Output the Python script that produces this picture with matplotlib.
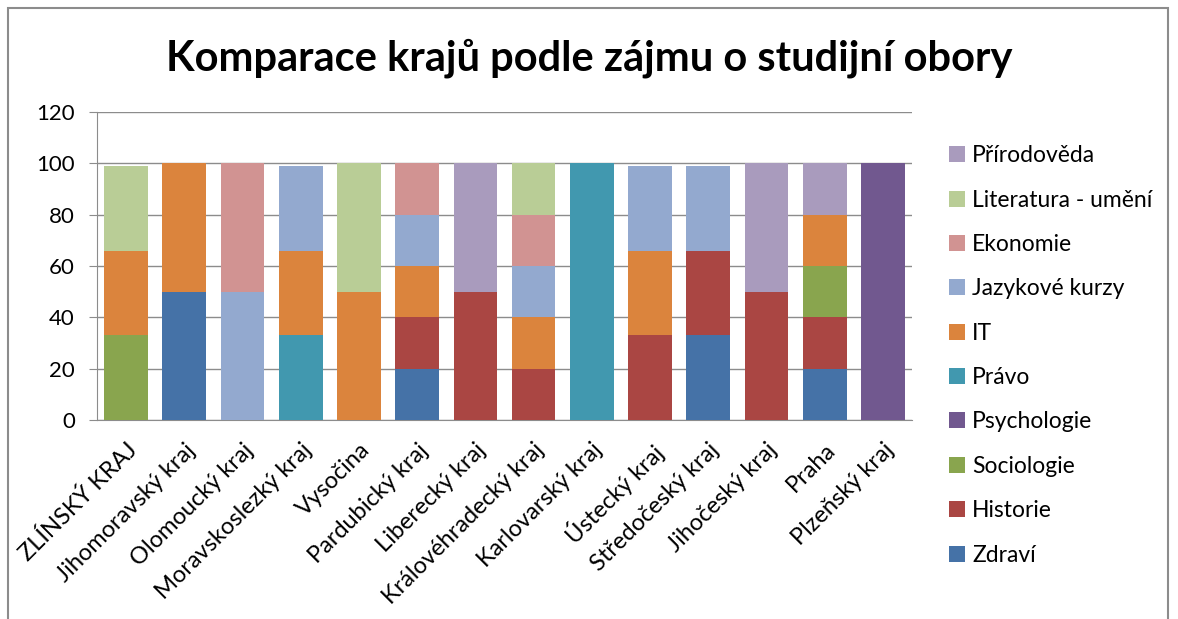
import numpy as np
import matplotlib
matplotlib.use('Agg')
import matplotlib.pyplot as plt
from matplotlib.patches import Rectangle, Patch

plt.rcParams['font.family'] = ['Lato', 'DejaVu Sans']

regions = ['ZLÍNSKÝ KRAJ', 'Jihomoravský kraj', 'Olomoucký kraj', 'Moravskoslezký kraj',
           'Vysočina', 'Pardubický kraj', 'Liberecký kraj', 'Královéhradecký kraj',
           'Karlovarský kraj', 'Ústecký kraj', 'Středočeský kraj', 'Jihočeský kraj',
           'Praha', 'Plzeňský kraj']

# stacking order, bottom to top
fields = ['Zdraví', 'Historie', 'Sociologie', 'Psychologie', 'Právo', 'IT',
          'Jazykové kurzy', 'Ekonomie', 'Literatura - umění', 'Přírodověda']

zdravi      = [0, 50, 0, 0, 0, 20, 0, 0, 0, 0, 33, 0, 20, 0]
historie    = [0, 0, 0, 0, 0, 20, 50, 20, 0, 33, 33, 50, 20, 0]
sociologie  = [33, 0, 0, 0, 0, 0, 0, 0, 0, 0, 0, 0, 20, 0]
psychologie = [0, 0, 0, 0, 0, 0, 0, 0, 0, 0, 0, 0, 0, 100]
pravo       = [0, 0, 0, 33, 0, 0, 0, 0, 100, 0, 0, 0, 0, 0]
it          = [33, 50, 0, 33, 50, 20, 0, 20, 0, 33, 0, 0, 20, 0]
jazykove    = [0, 0, 50, 33, 0, 20, 0, 20, 0, 33, 33, 0, 0, 0]
ekonomie    = [0, 0, 50, 0, 0, 20, 0, 20, 0, 0, 0, 0, 0, 0]
literatura  = [33, 0, 0, 0, 50, 0, 0, 20, 0, 0, 0, 0, 0, 0]
prirodoveda = [0, 0, 0, 0, 0, 0, 50, 0, 0, 0, 0, 50, 20, 0]

series = [zdravi, historie, sociologie, psychologie, pravo, it,
          jazykove, ekonomie, literatura, prirodoveda]
colors = ['#4572A7', '#AA4643', '#89A54E', '#71588F', '#4198AF', '#DB843D',
          '#93A9CF', '#D19392', '#B9CD96', '#A99BBD']

fig = plt.figure(figsize=(11.78, 6.19), dpi=100)
fig.patches.append(Rectangle((8 / 1178, -0.1), 1160 / 1178, 1 - 8 / 619 + 0.1,
                             transform=fig.transFigure, fill=False,
                             edgecolor='#8c8c8c', linewidth=1.5))

ax = fig.add_axes([97 / 1178, 1 - 420 / 619, 815 / 1178, 308 / 619])
x = np.arange(len(regions))
bottom = np.zeros(len(regions))
for vals, col in zip(series, colors):
    ax.bar(x, vals, width=0.75, bottom=bottom, color=col, zorder=3)
    bottom += np.array(vals)

ax.set_xlim(-0.5, len(regions) - 0.5)
ax.set_ylim(0, 120)
ax.set_yticks(range(0, 121, 20))
ax.yaxis.grid(True, color='#8c8c8c', linewidth=1, zorder=0)
for s in ['top', 'right']:
    ax.spines[s].set_visible(False)
for s in ['left', 'bottom']:
    ax.spines[s].set_color('#8c8c8c')
ax.tick_params(axis='y', length=6, color='#8c8c8c', labelsize=16, pad=10, direction='out')
ax.tick_params(axis='x', length=0, labelsize=17, pad=14)
ax.set_xticks(x)
ax.set_xticklabels(regions, rotation=45, ha='right', va='top', rotation_mode='anchor')

fig.text(0.5, 1 - 58 / 619, 'Komparace krajů podle zájmu o studijní obory',
         ha='center', va='center', fontsize=30, fontweight='bold')

handles = [Patch(facecolor=c, label=f) for f, c in zip(fields, colors)][::-1]
fig.legend(handles=handles, loc='upper left', bbox_to_anchor=(940 / 1178, 1 - 136 / 619),
           frameon=False, fontsize=16.5, handlelength=0.7, handleheight=0.7,
           handletextpad=0.3, labelspacing=1.02, borderaxespad=0)

fig.savefig('out.png', dpi=100)
